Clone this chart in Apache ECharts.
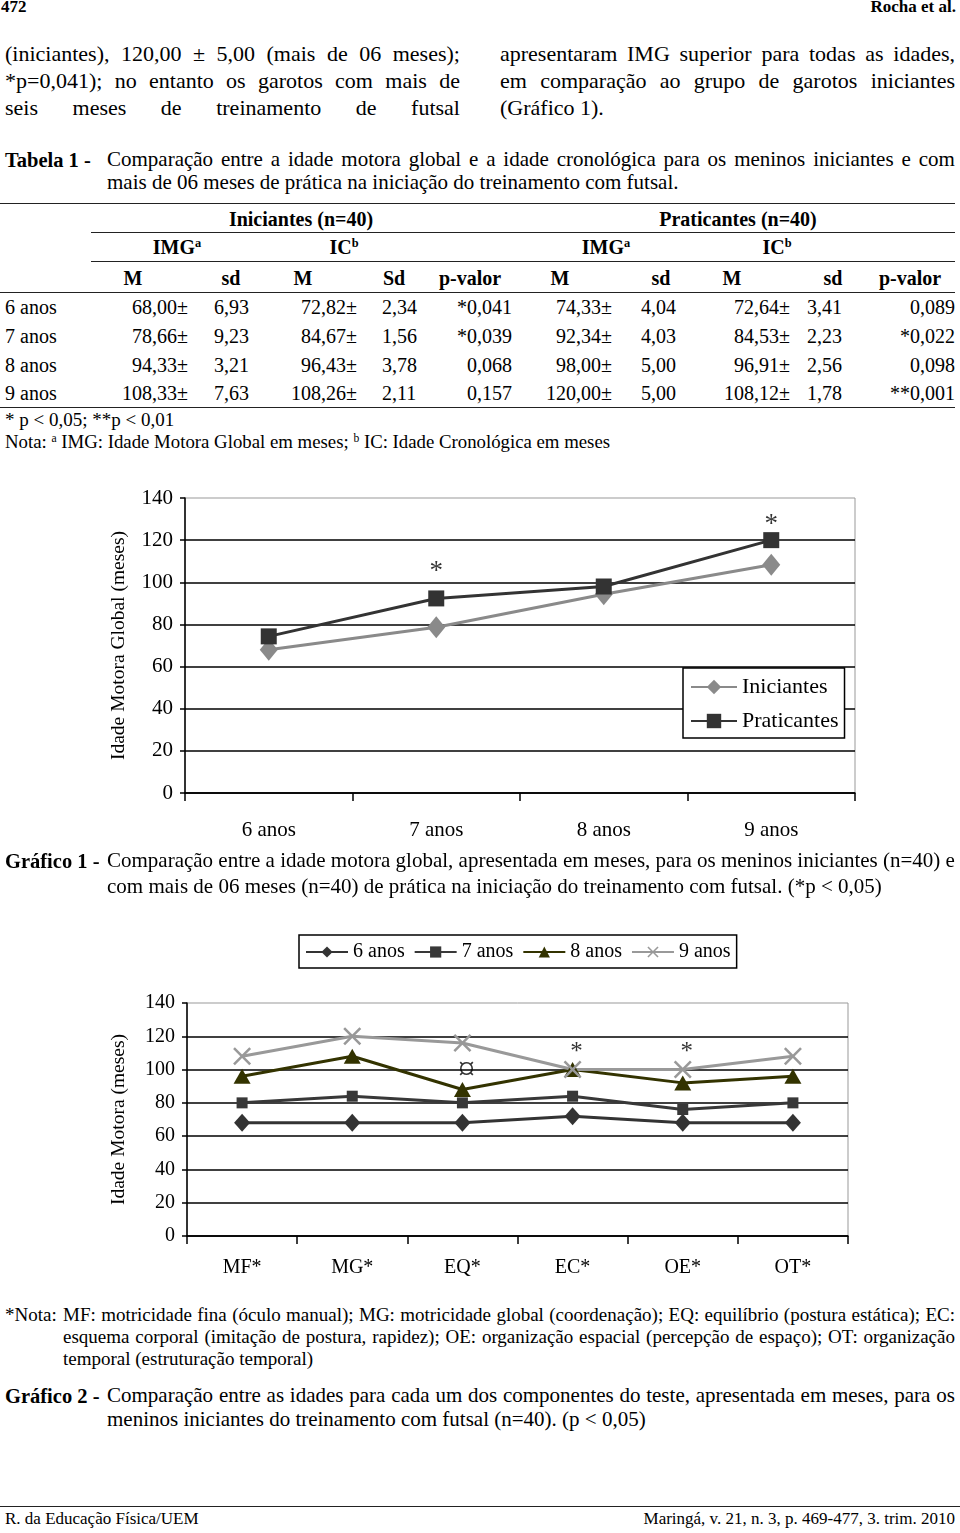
<!DOCTYPE html>
<html><head><meta charset="utf-8">
<script src="https://cdn.jsdelivr.net/npm/echarts@6/dist/echarts.min.js"></script>
<style>
html,body{margin:0;padding:0;background:#fff;}
#page{position:relative;width:960px;height:1533px;overflow:hidden;font-family:'Liberation Serif','Times New Roman',serif;color:#000;}
.t{position:absolute;white-space:nowrap;}
.j{position:absolute;display:flex;justify-content:space-between;white-space:nowrap;}
.hl{position:absolute;height:0;border-top:1.5px solid #222;}
.sup{font-size:62%;vertical-align:0.55em;line-height:0;}
#c1{position:absolute;left:0;top:470px;width:960px;height:380px;}
#c2{position:absolute;left:0;top:925px;width:960px;height:370px;}
</style></head>
<body><div id="page"><div id="c1"></div><div id="c2"></div></div>
<script>
// ---------- data ----------
const ageGroups = ['6 anos', '7 anos', '8 anos', '9 anos'];
const iniIMG_M  = [68.00, 78.66, 94.33, 108.33];
const iniIMG_sd = [6.93, 9.23, 3.21, 7.63];
const iniIC_M   = [72.82, 84.67, 96.43, 108.26];
const iniIC_sd  = [2.34, 1.56, 3.78, 2.11];
const iniP      = ['*0,041', '*0,039', '0,068', '0,157'];
const praIMG_M  = [74.33, 92.34, 98.00, 120.00];
const praIMG_sd = [4.04, 4.03, 5.00, 5.00];
const praIC_M   = [72.64, 84.53, 96.91, 108.12];
const praIC_sd  = [3.41, 2.23, 2.56, 1.78];
const praP      = ['0,089', '*0,022', '0,098', '**0,001'];
const graf1Sig    = ['', '*', '', '*'];
const graf1SigPos = [null, 105, null, 127];

const components = ['MF*', 'MG*', 'EQ*', 'EC*', 'OE*', 'OT*'];
const anos6 = [68, 68, 68, 72, 68, 68];
const anos7 = [80, 84, 80, 84, 76, 80];
const anos8 = [96, 108, 88, 100, 92, 96];
const anos9 = [108, 120, 116, 100, 100, 108];
const graf2Sig    = ['', '', '\u00a4', '*', '*', ''];
const graf2SigPos = [null, null, 99, 110, 110, null];

const yTicks = [0, 20, 40, 60, 80, 100, 120, 140];

// ---------- text helpers ----------
const page = document.getElementById('page');
function T(html, x, cy, size, opt) {
  opt = opt || {};
  const d = document.createElement('div');
  d.className = 't';
  d.innerHTML = html;
  d.style.fontSize = size + 'px';
  d.style.lineHeight = (size * 1.2) + 'px';
  d.style.top = (cy - size * 0.65) + 'px';
  if (opt.bold) d.style.fontWeight = 'bold';
  if (opt.align === 'right') { d.style.left = (x - 700) + 'px'; d.style.width = '700px'; d.style.textAlign = 'right'; }
  else if (opt.align === 'center') { d.style.left = (x - 150) + 'px'; d.style.width = '300px'; d.style.textAlign = 'center'; }
  else d.style.left = x + 'px';
  page.appendChild(d);
}
function J(text, x, cy, w, size) {
  const d = document.createElement('div');
  d.className = 'j';
  text.split(' ').forEach(function (wd) { const s = document.createElement('span'); s.textContent = wd; d.appendChild(s); });
  d.style.fontSize = size + 'px';
  d.style.lineHeight = (size * 1.2) + 'px';
  d.style.top = (cy - size * 0.65) + 'px';
  d.style.left = x + 'px'; d.style.width = w + 'px';
  page.appendChild(d);
}
function HL(x1, x2, y) {
  const d = document.createElement('div');
  d.className = 'hl';
  d.style.left = x1 + 'px'; d.style.width = (x2 - x1) + 'px'; d.style.top = (y - 0.75) + 'px';
  page.appendChild(d);
}
const fmt = v => v.toFixed(2).replace('.', ',');

// header
T('472', 1, 8, 17, {bold: true});
T('Rocha et al.', 956, 8, 17, {bold: true, align: 'right'});

// body columns
J('(iniciantes), 120,00 ± 5,00 (mais de 06 meses);', 5, 55, 455, 22);
J('*p=0,041); no entanto os garotos com mais de', 5, 82, 455, 22);
J('seis meses de treinamento de futsal', 5, 109, 455, 22);
J('apresentaram IMG superior para todas as idades,', 500, 55, 455, 22);
J('em comparação ao grupo de garotos iniciantes', 500, 82, 455, 22);
T('(Gráfico 1).', 500, 109, 22);

// table caption
T('Tabela 1 -', 5, 161, 20.5, {bold: true});
J('Comparação entre a idade motora global e a idade cronológica para os meninos iniciantes e com', 107, 161, 848, 21);
T('mais de 06 meses de prática na iniciação do treinamento com futsal.', 107, 184, 21);

// table
HL(0, 955, 204); HL(91, 955, 233); HL(91, 955, 262); HL(0, 955, 293); HL(0, 955, 408);
T('Iniciantes (n=40)', 301, 220, 20, {bold: true, align: 'center'});
T('Praticantes (n=40)', 738, 220, 20, {bold: true, align: 'center'});
T('IMG<span class="sup">a</span>', 177, 248, 20, {bold: true, align: 'center'});
T('IC<span class="sup">b</span>', 344, 248, 20, {bold: true, align: 'center'});
T('IMG<span class="sup">a</span>', 606, 248, 20, {bold: true, align: 'center'});
T('IC<span class="sup">b</span>', 777, 248, 20, {bold: true, align: 'center'});
const hdr = [['M', 133], ['sd', 231], ['M', 303], ['Sd', 394], ['p-valor', 470], ['M', 560], ['sd', 661], ['M', 732], ['sd', 833], ['p-valor', 910]];
hdr.forEach(h => T(h[0], h[1], 279, 20, {bold: true, align: 'center'}));
const rowY = [308, 337, 366, 394];
ageGroups.forEach(function (a, i) {
  const y = rowY[i];
  T(a, 5, y, 20);
  T(fmt(iniIMG_M[i]) + '±', 188, y, 20, {align: 'right'});
  T(fmt(iniIMG_sd[i]), 214, y, 20);
  T(fmt(iniIC_M[i]) + '±', 357, y, 20, {align: 'right'});
  T(fmt(iniIC_sd[i]), 382, y, 20);
  T(iniP[i], 512, y, 20, {align: 'right'});
  T(fmt(praIMG_M[i]) + '±', 612, y, 20, {align: 'right'});
  T(fmt(praIMG_sd[i]), 641, y, 20);
  T(fmt(praIC_M[i]) + '±', 790, y, 20, {align: 'right'});
  T(fmt(praIC_sd[i]), 807, y, 20);
  T(praP[i], 955, y, 20, {align: 'right'});
});
T('* p &lt; 0,05; **p &lt; 0,01', 5, 421, 19);
T('Nota: <span class="sup">a</span> IMG: Idade Motora Global em meses; <span class="sup">b</span> IC: Idade Cronológica em meses', 5, 443, 18.8);

// graph 1 caption
T('Gráfico 1 -', 5, 862, 20.5, {bold: true});
J('Comparação entre a idade motora global, apresentada em meses, para os meninos iniciantes (n=40) e', 107, 862, 848, 21);
T('com mais de 06 meses (n=40) de prática na iniciação do treinamento com futsal. (*p &lt; 0,05)', 107, 888, 21);

// graph 2 notes & caption
T('*Nota:', 5, 1316, 19);
J('MF: motricidade fina (óculo manual); MG: motricidade global (coordenação); EQ: equilíbrio (postura estática); EC:', 63, 1316, 892, 19);
J('esquema corporal (imitação de postura, rapidez); OE: organização espacial (percepção de espaço); OT: organização', 63, 1338, 892, 19);
T('temporal (estruturação temporal)', 63, 1360, 19);
T('Gráfico 2 -', 5, 1397, 20.5, {bold: true});
J('Comparação entre as idades para cada um dos componentes do teste, apresentada em meses, para os', 107, 1397, 848, 21);
T('meninos iniciantes do treinamento com futsal (n=40). (p &lt; 0,05)', 107, 1421, 21);

// footer
HL(0, 960, 1507);
T('R. da Educação Física/UEM', 5, 1520, 17);
T('Maringá, v. 21, n. 3, p. 469-477, 3. trim. 2010', 955, 1520, 17, {align: 'right'});

// ---------- charts ----------
const FF = 'Liberation Serif';
function yAxisCfg(name, gap, nameSize, labelSize) {
  return {
    type: 'value', min: yTicks[0], max: yTicks[yTicks.length - 1], interval: yTicks[1] - yTicks[0],
    name: name, nameLocation: 'middle', nameGap: gap,
    nameTextStyle: {fontFamily: FF, fontSize: nameSize, color: '#000'},
    axisLine: {show: true, lineStyle: {color: '#000', width: 1.5}},
    axisTick: {show: true, length: 5, lineStyle: {color: '#000', width: 1.5}},
    axisLabel: {fontFamily: FF, fontSize: labelSize, color: '#000', margin: 12},
    splitLine: {show: true, showMaxLine: false, lineStyle: {color: '#000', width: 1.5}}
  };
}
function xAxisCfg(data, size, margin) {
  return {
    type: 'category', data: data, boundaryGap: true,
    axisLine: {lineStyle: {color: '#000', width: 1.5}},
    axisTick: {show: true, length: 8, lineStyle: {color: '#000', width: 1.5}},
    axisLabel: {fontFamily: FF, fontSize: size, color: '#000', margin: margin},
    splitLine: {show: false}
  };
}
function sigSeries(pos, sig, sizes, dx) {
  return {
    type: 'scatter', silent: true, symbolSize: 1, itemStyle: {color: 'rgba(0,0,0,0)'},
    data: pos.map((v, i) => v == null ? null : {value: [i, v], label: {formatter: sig[i], fontSize: sizes[sig[i]]}}).filter(d => d),
    label: {show: true, position: 'inside', offset: [dx, 0], fontFamily: FF, color: '#000'},
    z: 5
  };
}

const c1 = echarts.init(document.getElementById('c1'), null, {renderer: 'canvas'});
c1.setOption({
  animation: false,
  grid: {left: 185, right: 105, top: 28, bottom: 57, show: true, borderColor: '#999', borderWidth: 1},
  xAxis: xAxisCfg(ageGroups, 21, 27),
  yAxis: yAxisCfg('Idade Motora Global (meses)', 56, 19.5, 21),
  legend: {
    orient: 'vertical', left: 683, top: 198, padding: [8, 6, 6, 7], itemGap: 12,
    itemWidth: 46, itemHeight: 18, backgroundColor: '#fff', borderColor: '#000', borderWidth: 1.5,
    textStyle: {fontFamily: FF, fontSize: 22, color: '#000'},
    data: ['Iniciantes', 'Praticantes']
  },
  series: [
    {name: 'Iniciantes', type: 'line', data: iniIMG_M, symbol: 'diamond', symbolSize: [18, 22],
     lineStyle: {color: '#8a8a8a', width: 3}, itemStyle: {color: '#8a8a8a'}, z: 3},
    {name: 'Praticantes', type: 'line', data: praIMG_M, symbol: 'rect', symbolSize: 16,
     lineStyle: {color: '#333', width: 3}, itemStyle: {color: '#333'}, z: 4},
    sigSeries(graf1SigPos, graf1Sig, {'*': 27}, 0)
  ]
});

const xPath = 'path://M1,0 L5,4 L9,0 L10,1 L6,5 L10,9 L9,10 L5,6 L1,10 L0,9 L4,5 L0,1 Z';
const c2 = echarts.init(document.getElementById('c2'), null, {renderer: 'canvas'});
c2.setOption({
  animation: false,
  grid: {left: 187, right: 112, top: 78, bottom: 59, show: true, borderColor: '#999', borderWidth: 1},
  xAxis: xAxisCfg(components, 20, 22),
  yAxis: yAxisCfg('Idade Motora (meses)', 58, 19.5, 20),
  legend: {
    orient: 'horizontal', left: 299, top: 10, padding: [7, 6, 6, 6], itemGap: 9,
    itemWidth: 42, itemHeight: 14, backgroundColor: '#fff', borderColor: '#000', borderWidth: 1.5,
    textStyle: {fontFamily: FF, fontSize: 20, color: '#000'},
    data: ['6 anos', '7 anos', '8 anos', '9 anos']
  },
  series: [
    {name: '6 anos', type: 'line', data: anos6, symbol: 'diamond', symbolSize: [16, 18],
     lineStyle: {color: '#333', width: 3}, itemStyle: {color: '#333'}},
    {name: '7 anos', type: 'line', data: anos7, symbol: 'rect', symbolSize: 11,
     lineStyle: {color: '#383838', width: 3}, itemStyle: {color: '#383838'}},
    {name: '8 anos', type: 'line', data: anos8, symbol: 'triangle', symbolSize: [17, 15],
     lineStyle: {color: '#333300', width: 3}, itemStyle: {color: '#333300'}},
    {name: '9 anos', type: 'line', data: anos9, symbol: xPath, symbolSize: 18,
     lineStyle: {color: '#999', width: 3}, itemStyle: {color: '#999'}},
    sigSeries(graf2SigPos, graf2Sig, {'*': 25, '\u00a4': 34}, 4)
  ]
});
</script>
</body></html>
